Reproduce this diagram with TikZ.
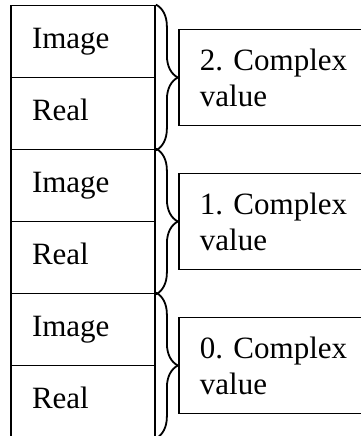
\documentclass[tikz,border=0pt]{standalone}
\usepackage{fontspec}
\setmainfont{Liberation Serif}
\usetikzlibrary{decorations.pathreplacing}
\begin{document}
\frenchspacing
\begin{tikzpicture}[x=1pt,y=-1pt,
  every node/.style={font=\fontsize{31}{36}\selectfont},
  cell/.style={draw, line width=1.8pt, inner xsep=21pt, text width=102pt,
    align=left, minimum height=72pt, text height=21pt, text depth=7pt},
  valbox/.style={draw, line width=1.8pt, anchor=west, inner xsep=21pt,
    text width=170pt, align=left, minimum height=96pt},
  grp/.style={line width=1.8pt, decorate,
    decoration={brace, amplitude=22pt}}]
\useasboundingbox (0,0) rectangle (361,436);
% memory layout: one Image/Real pair per complex value
\foreach \k/\t in {2/5.5, 1/149.5, 0/293.5} {
  \node[cell] (img\k)  at (83,\t+36)  {Image};
  \node[cell] (real\k) at (83,\t+108) {Real};
  \draw[grp] (img\k.north east) -- (real\k.south east);
  \node[valbox] (val\k) at (178,\t+72) {\k.\ Complex\\value};
}
\end{tikzpicture}
\end{document}
